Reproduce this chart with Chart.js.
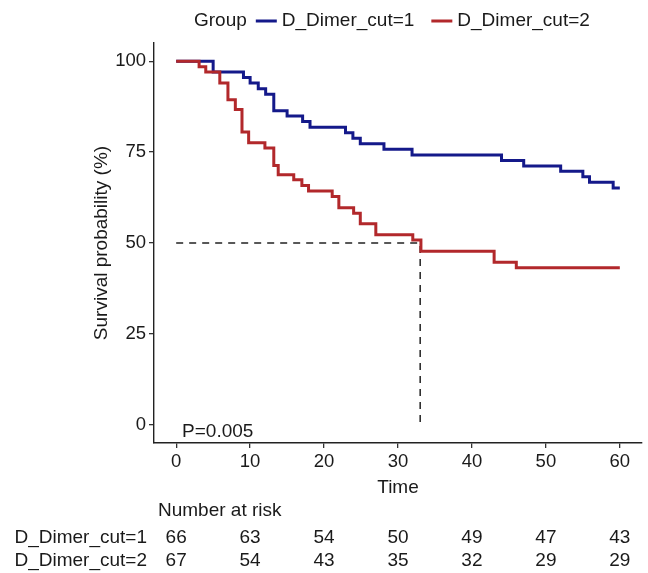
<!DOCTYPE html>
<html>
<head>
<meta charset="utf-8">
<script src="https://cdn.jsdelivr.net/npm/chart.js@4.4.1/dist/chart.umd.min.js"></script>
<style>
  html, body { margin: 0; padding: 0; background: #fff; }
  #wrap { width: 648px; height: 573px; position: relative; }
</style>
</head>
<body>
<div id="wrap"><canvas id="kmChart"></canvas></div>
<script>
const timeTicks = [0, 10, 20, 30, 40, 50, 60];
const survTicks = [0, 25, 50, 75, 100];
const groupNames = ["D_Dimer_cut=1", "D_Dimer_cut=2"];

// KM steps (time, survival % after the step)
const time1 = [0, 5, 9.1, 10, 11.1, 12.1, 13.2, 15, 17.1, 18.1, 22.9, 23.9, 24.9, 28.1, 31.9, 44, 47, 52, 55, 55.9, 59.1, 60];
const surv1 = [100, 97.0, 95.5, 94.0, 92.4, 90.9, 86.4, 84.9, 83.4, 81.8, 80.3, 78.8, 77.3, 75.8, 74.2, 72.7, 71.2, 69.7, 68.2, 66.7, 65.1, 65.1];
const time2 = [0, 3.1, 4.0, 5.9, 7.0, 8.0, 8.9, 9.8, 12.0, 13.2, 13.8, 15.9, 17.0, 17.9, 21.1, 22.0, 24.0, 24.9, 27.0, 32.0, 33.1, 43.0, 46.0, 60];
const surv2 = [100, 98.5, 97.0, 94.0, 89.4, 86.7, 80.5, 77.6, 76.1, 71.3, 68.8, 67.4, 65.8, 64.3, 62.8, 59.7, 58.2, 55.3, 52.3, 50.8, 47.7, 44.7, 43.2, 43.2];

const medianTime = 33;
const pValueText = "P=0.005";

const riskTimes = [0, 10, 20, 30, 40, 50, 60];
const risk1 = [66, 63, 54, 50, 49, 47, 43];
const risk2 = [67, 54, 43, 35, 32, 29, 29];

const FONT = "'Liberation Sans', Arial, Helvetica, sans-serif";
const blue = "#14198A";
const red = "#B2282B";
const ink = "#1a1a1a";

Chart.defaults.font.family = FONT;

const toPoints = (ts, ss) => ts.map((t, i) => ({ x: t, y: ss[i] }));

// legend, p value and risk table
const kmExtras = {
  id: "kmExtras",
  afterDraw(chart) {
    const { ctx, scales: { x, y } } = chart;
    ctx.save();
    ctx.fillStyle = ink;
    ctx.textBaseline = "middle";
    ctx.font = "19px " + FONT;

    // legend on top
    let lx = 194;
    const ly = 21;
    ctx.textAlign = "left";
    ctx.fillText("Group", lx, ly);
    lx += ctx.measureText("Group").width + 9;
    [blue, red].forEach((col, i) => {
      ctx.strokeStyle = col;
      ctx.lineWidth = 3;
      ctx.beginPath();
      ctx.moveTo(lx, ly);
      ctx.lineTo(lx + 21, ly);
      ctx.stroke();
      lx += 26;
      ctx.fillText(groupNames[i], lx, ly);
      lx += ctx.measureText(groupNames[i]).width + 17;
    });

    // p value
    ctx.fillText(pValueText, x.getPixelForValue(0.8), y.getPixelForValue(-2));

    // number at risk
    ctx.fillText("Number at risk", 158, 511);
    ctx.textAlign = "right";
    ctx.fillText(groupNames[0], 147, 538);
    ctx.fillText(groupNames[1], 147, 561);
    ctx.textAlign = "center";
    riskTimes.forEach((t, i) => {
      const px = x.getPixelForValue(t);
      ctx.fillText(String(risk1[i]), px, 538);
      ctx.fillText(String(risk2[i]), px, 561);
    });
    ctx.restore();
  }
};

const ctx = document.getElementById("kmChart").getContext("2d");
new Chart(ctx, {
  type: "line",
  data: {
    datasets: [
      {
        label: groupNames[0],
        data: toPoints(time1, surv1),
        borderColor: blue,
        borderWidth: 3,
        stepped: true,
        pointRadius: 0,
        fill: false,
        order: 1,
      },
      {
        label: groupNames[1],
        data: toPoints(time2, surv2),
        borderColor: red,
        borderWidth: 3,
        stepped: true,
        pointRadius: 0,
        fill: false,
        order: 0,
      },
      {
        label: "median",
        data: [{ x: 0, y: 50 }, { x: medianTime, y: 50 }, { x: medianTime, y: 0 }],
        borderColor: "#222",
        borderWidth: 1.5,
        borderDash: [7, 6],
        pointRadius: 0,
        fill: false,
        order: 2,
      },
    ],
  },
  options: {
    responsive: true,
    maintainAspectRatio: false,
    animation: false,
    layout: { padding: { top: 43, right: 6, bottom: 70, left: 0 } },
    plugins: { legend: { display: false }, tooltip: { enabled: false } },
    scales: {
      x: {
        type: "linear",
        min: -3,
        max: 63,
        afterBuildTicks: (s) => { s.ticks = timeTicks.map((v) => ({ value: v })); },
        afterFit: (s) => { s.height = 60; },
        ticks: { autoSkip: false, maxRotation: 0, padding: 3, color: ink, font: { size: 18.5 } },
        grid: { drawOnChartArea: false, drawTicks: true, tickLength: 5, color: "#333", lineWidth: 1.3 },
        border: { color: "#222", width: 1.4 },
        title: { display: true, text: "Time", color: ink, font: { size: 19 }, padding: { top: 0, bottom: 4 } },
      },
      y: {
        type: "linear",
        min: -5,
        max: 105,
        afterBuildTicks: (s) => { s.ticks = survTicks.map((v) => ({ value: v })); },
        afterFit: (s) => { s.width = 154; },
        ticks: { autoSkip: false, padding: 3, color: ink, font: { size: 18.5 } },
        grid: { drawOnChartArea: false, drawTicks: true, tickLength: 5, color: "#333", lineWidth: 1.3 },
        border: { color: "#222", width: 1.4 },
        title: { display: true, text: "Survival probability (%)", color: ink, font: { size: 19 }, padding: { top: 90, bottom: 0 } },
      },
    },
  },
  plugins: [kmExtras],
});
</script>
</body>
</html>
